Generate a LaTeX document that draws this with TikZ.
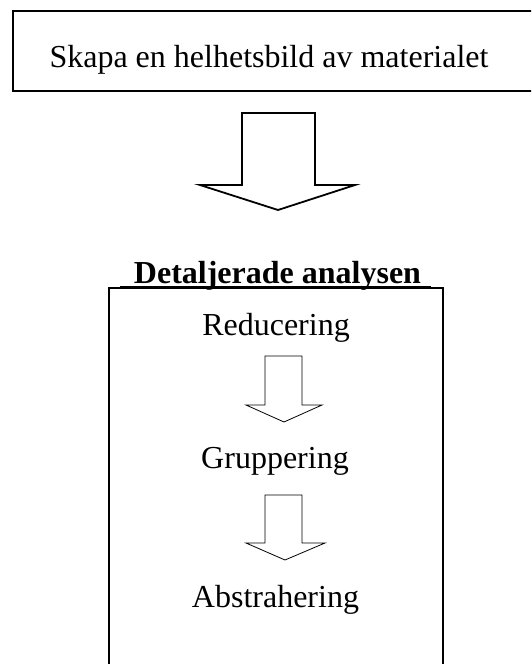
\documentclass[tikz,border=0pt]{standalone}
\usepackage{fontspec}
\setmainfont{Liberation Serif}
\begin{document}
\begin{tikzpicture}[x=1pt,y=-1pt,
  txt/.style={font=\fontsize{32}{38}\selectfont, inner sep=0pt, anchor=base}]
\useasboundingbox (0,0) rectangle (531,664);
\fill[white] (0,0) rectangle (531,664);
\clip (0,0) rectangle (531,664);

	% Ram upptill
	\draw[line width=2.6pt] (560,11) -- (13,11) -- (13,91) -- (560,91);
	\node[txt] (helhet) at (269,67) {Skapa en helhetsbild av materialet};

	% Stor pil nedåt
	\draw[line width=1.8pt, line join=miter] (242,113) -- (315,113) -- (315,185)
	-- (355,185) -- (278,210) -- (200,185) -- (242,185) -- cycle;

	% Ram nertill
	\draw[line width=2.5pt] (109,680) -- (109,288) -- (443,288) -- (443,680);
	\node[txt, font=\bfseries\fontsize{32}{38}\selectfont] (detalj) at (277.5,283) {Detaljerade analysen};
	\draw[line width=1.8pt] ([yshift=-4pt,xshift=-14pt]detalj.base west) -- ([yshift=-4pt,xshift=10pt]detalj.base east);

	% Steg i analysen
	\node[txt] (reducering) at (276,335) {Reducering};
	\node[txt] (gruppering) at (275,468) {Gruppering};
	\node[txt] (abstrahering) at (275.5,607) {Abstrahering};

	% Små pilar
	\draw[line width=0.8pt] (265,356) -- (302,356) -- (302,405)
	-- (322,405) -- (284,422) -- (246,405) -- (265,405) -- cycle;
	\draw[line width=0.8pt] (265,495) -- (302,495) -- (302,543)
	-- (325,543) -- (285,560) -- (246,543) -- (265,543) -- cycle;

\end{tikzpicture}
\end{document}
